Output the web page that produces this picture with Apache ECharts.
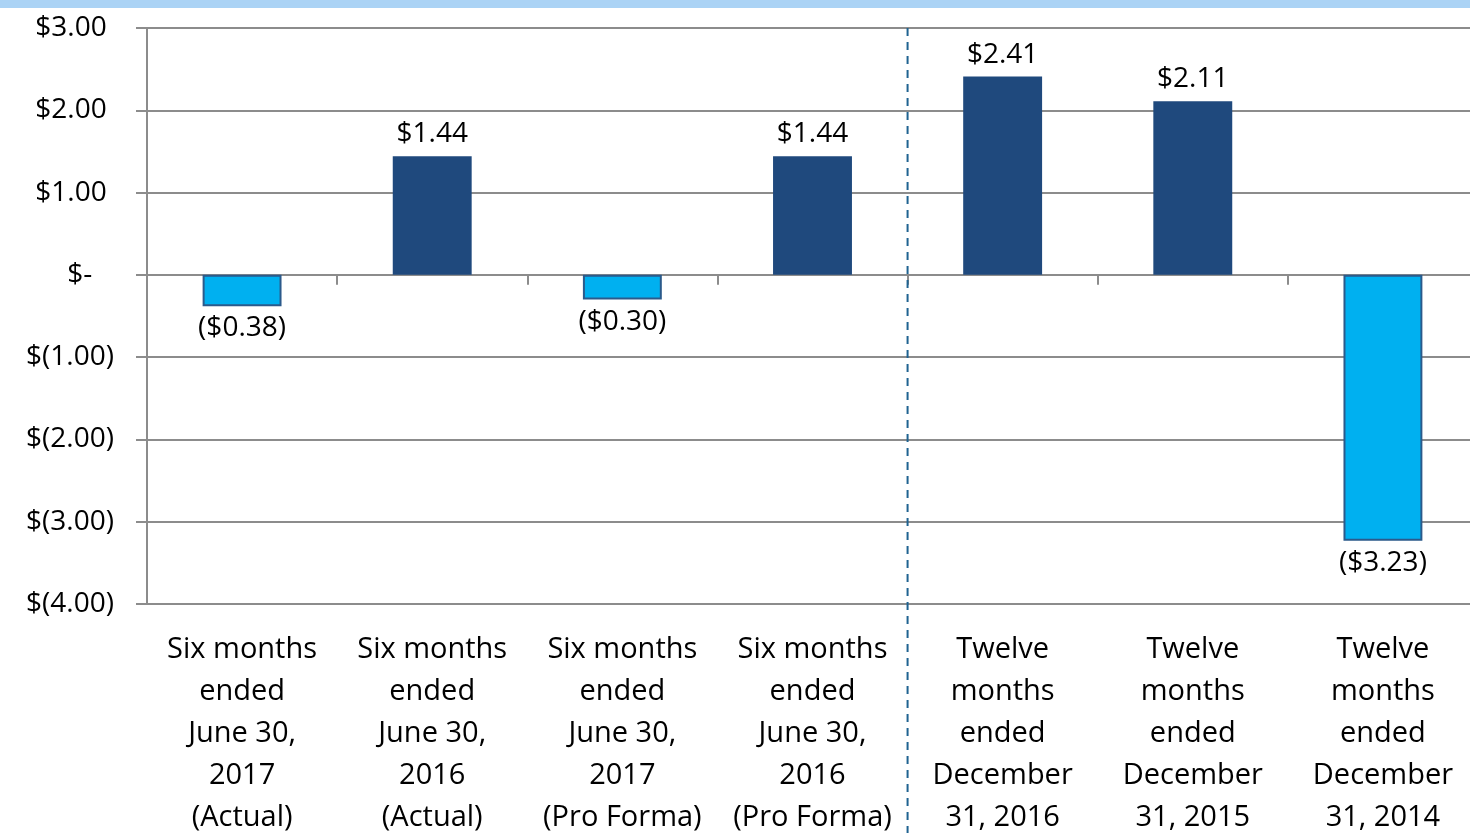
<!DOCTYPE html>
<html>
<head>
<meta charset="utf-8">
<script src="https://cdn.jsdelivr.net/npm/echarts@6/dist/echarts.min.js"></script>
<style>
  html, body { margin: 0; padding: 0; background: #fff; }
  #chart { width: 1470px; height: 833px; }
</style>
</head>
<body>
<div id="chart"></div>
<script>
var categories = [
    'Six months\nended\nJune 30,\n2017\n(Actual)',
    'Six months\nended\nJune 30,\n2016\n(Actual)',
    'Six months\nended\nJune 30,\n2017\n(Pro Forma)',
    'Six months\nended\nJune 30,\n2016\n(Pro Forma)',
    'Twelve\nmonths\nended\nDecember\n31, 2016',
    'Twelve\nmonths\nended\nDecember\n31, 2015',
    'Twelve\nmonths\nended\nDecember\n31, 2014'
];
var values = [-0.38, 1.44, -0.30, 1.44, 2.41, 2.11, -3.23];
// position of the dashed divider, between 4th and 5th category (index units)
var dividerAt = 3.5;

var FONT = '"Open Sans"';
var chart = echarts.init(document.getElementById('chart'));

// accounting style: positives keep a trailing space to line up with the ")"
var money = function (v) {
    if (v === 0) return '$-   ';
    if (v < 0) return '$(' + Math.abs(v).toFixed(2) + ')';
    return '$' + v.toFixed(2) + ' ';
};

var barData = values.map(function (v) {
    if (v < 0) {
        return {
            value: v,
            itemStyle: {color: '#00b0f0', borderColor: '#2b5a8b', borderWidth: 2},
            label: {position: 'bottom'}
        };
    }
    return {value: v, itemStyle: {color: '#1f497d'}};
});

var option = {
    backgroundColor: '#fff',
    animation: false,
    graphic: [{
        type: 'rect',
        left: 0, top: 0,
        shape: {width: 1470, height: 8},
        style: {fill: '#abd3f5'}
    }],
    grid: {left: 147, top: 28, width: 1331, height: 576, outerBoundsMode: 'none'},
    xAxis: [{
        type: 'category',
        data: categories,
        axisLine: {onZero: true, lineStyle: {color: '#8c8c8c', width: 2}},
        axisTick: {show: true, length: 10, lineStyle: {color: '#8c8c8c', width: 2}},
        axisLabel: {show: false},
        splitLine: {show: false}
    }, {
        type: 'category',
        data: categories,
        position: 'bottom',
        axisLine: {show: false, onZero: false},
        axisTick: {show: false},
        axisLabel: {
            interval: 0, margin: 25,
            fontFamily: FONT, fontSize: 29, lineHeight: 42, color: '#000'
        }
    }, {
        type: 'value',
        min: -0.5, max: 6.5,
        show: false
    }],
    yAxis: {
        type: 'value',
        min: -4, max: 3, interval: 1,
        axisLine: {show: true, onZero: false, lineStyle: {color: '#8c8c8c', width: 2}},
        axisTick: {show: true, length: 11, lineStyle: {color: '#8c8c8c', width: 2}},
        axisLabel: {
            margin: 33,
            fontFamily: FONT, fontSize: 28, color: '#000',
            formatter: money
        },
        splitLine: {lineStyle: {color: '#8c8c8c', width: 2}}
    },
    series: [{
        type: 'bar',
        xAxisIndex: 0,
        data: barData,
        barWidth: '41.5%',
        label: {
            show: true,
            position: 'top',
            distance: 8,
            fontFamily: FONT, fontSize: 28, color: '#000',
            formatter: function (p) {
                var v = p.value;
                return v < 0 ? '($' + Math.abs(v).toFixed(2) + ')' : '$' + v.toFixed(2);
            }
        }
    }, {
        type: 'line',
        xAxisIndex: 2,
        clip: false,
        symbol: 'none',
        lineStyle: {color: '#1f6391', width: 2, type: [8, 6]},
        data: [[dividerAt, 3], [dividerAt, -6.8]]
    }]
};
chart.setOption(option);
</script>
</body>
</html>
